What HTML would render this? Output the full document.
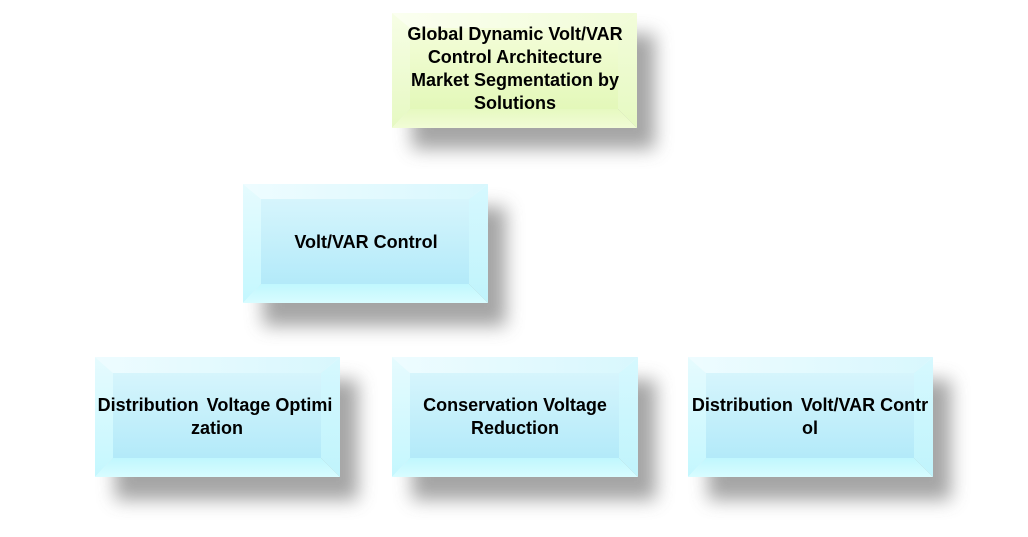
<!DOCTYPE html>
<html>
<head>
<meta charset="utf-8">
<style>
  html, body { margin: 0; padding: 0; background: #ffffff; }
  body { width: 1028px; height: 537px; overflow: hidden; }
  svg { display: block; }
  text { font-family: "Liberation Sans", "DejaVu Sans", sans-serif; font-weight: bold; font-size: 18px; fill: #000; }
</style>
</head>
<body>
<svg width="1028" height="537" viewBox="0 0 1028 537" xmlns="http://www.w3.org/2000/svg">
  <defs>
    <filter id="sh" x="-30%" y="-40%" width="160%" height="180%">
      <feGaussianBlur stdDeviation="9"/>
    </filter>
    <!-- blue -->
    <linearGradient id="bFace" x1="0" y1="0" x2="0" y2="1">
      <stop offset="0" stop-color="#d6f5fc"/>
      <stop offset="1" stop-color="#b3eaf9"/>
    </linearGradient>
    <linearGradient id="bTop" x1="0" y1="0" x2="1" y2="0">
      <stop offset="0" stop-color="#eefcff"/>
      <stop offset="1" stop-color="#d8f7fd"/>
    </linearGradient>
    <linearGradient id="bLeft" x1="0" y1="0" x2="0" y2="1">
      <stop offset="0" stop-color="#e6fbfe"/>
      <stop offset="1" stop-color="#c4f7fe"/>
    </linearGradient>
    <linearGradient id="bRight" x1="0" y1="0" x2="0" y2="1">
      <stop offset="0" stop-color="#d6f8fe"/>
      <stop offset="1" stop-color="#c0f4fc"/>
    </linearGradient>
    <linearGradient id="bBot" x1="0" y1="0" x2="0" y2="1">
      <stop offset="0" stop-color="#c0f7fe"/>
      <stop offset="1" stop-color="#d8fcff"/>
    </linearGradient>
    <!-- yellow-green -->
    <linearGradient id="yFace" x1="0" y1="0" x2="0" y2="1">
      <stop offset="0" stop-color="#f4fdd9"/>
      <stop offset="1" stop-color="#e3f8b9"/>
    </linearGradient>
    <linearGradient id="yTop" x1="0" y1="0" x2="1" y2="0">
      <stop offset="0" stop-color="#fbfff0"/>
      <stop offset="1" stop-color="#f1fcd8"/>
    </linearGradient>
    <linearGradient id="yLeft" x1="0" y1="0" x2="0" y2="1">
      <stop offset="0" stop-color="#f7fee6"/>
      <stop offset="1" stop-color="#e6f9c2"/>
    </linearGradient>
    <linearGradient id="yRight" x1="0" y1="0" x2="0" y2="1">
      <stop offset="0" stop-color="#f2fcda"/>
      <stop offset="1" stop-color="#e6f9c2"/>
    </linearGradient>
    <linearGradient id="yBot" x1="0" y1="0" x2="0" y2="1">
      <stop offset="0" stop-color="#e6f9c0"/>
      <stop offset="1" stop-color="#f1fcd6"/>
    </linearGradient>
  </defs>

  <!-- shadows -->
  <g filter="url(#sh)" fill="#959595" opacity="0.85">
    <rect x="412" y="34" width="243" height="115"/>
    <rect x="263" y="207" width="243" height="119"/>
    <rect x="115" y="380" width="243" height="120"/>
    <rect x="412" y="380" width="244" height="120"/>
    <rect x="708" y="380" width="243" height="120"/>
  </g>

  <!-- Top box (yellow) -->
  <g>
    <rect x="410" y="28" width="208" height="81" fill="url(#yFace)"/>
    <polygon points="392,13 637,13 618,28 410,28" fill="url(#yTop)"/>
    <polygon points="392,13 410,28 410,109 392,128" fill="url(#yLeft)"/>
    <polygon points="637,13 637,128 618,109 618,28" fill="url(#yRight)"/>
    <polygon points="392,128 410,109 618,109 637,128" fill="url(#yBot)"/>
    <text x="515" y="40" text-anchor="middle">Global Dynamic Volt/VAR</text>
    <text x="515" y="63" text-anchor="middle">Control Architecture</text>
    <text x="515" y="86" text-anchor="middle">Market Segmentation by</text>
    <text x="515" y="109" text-anchor="middle">Solutions</text>
  </g>

  <!-- Volt/VAR Control -->
  <g>
    <rect x="261" y="199" width="208" height="85" fill="url(#bFace)"/>
    <polygon points="243,184 488,184 469,199 261,199" fill="url(#bTop)"/>
    <polygon points="243,184 261,199 261,284 243,303" fill="url(#bLeft)"/>
    <polygon points="488,184 488,303 469,284 469,199" fill="url(#bRight)"/>
    <polygon points="243,303 261,284 469,284 488,303" fill="url(#bBot)"/>
    <text x="366" y="248" text-anchor="middle">Volt/VAR Control</text>
  </g>

  <!-- Distribution Voltage Optimization -->
  <g>
    <rect x="113" y="373" width="208" height="85" fill="url(#bFace)"/>
    <polygon points="95,357 340,357 321,373 113,373" fill="url(#bTop)"/>
    <polygon points="95,357 113,373 113,458 95,477" fill="url(#bLeft)"/>
    <polygon points="340,357 340,477 321,458 321,373" fill="url(#bRight)"/>
    <polygon points="95,477 113,458 321,458 340,477" fill="url(#bBot)"/>
    <text x="215" y="411" text-anchor="middle">Distribution<tspan dx="3"> Voltage Optimi</tspan></text>
    <text x="217" y="434" text-anchor="middle">zation</text>
  </g>

  <!-- Conservation Voltage Reduction -->
  <g>
    <rect x="410" y="373" width="209" height="85" fill="url(#bFace)"/>
    <polygon points="392,357 638,357 619,373 410,373" fill="url(#bTop)"/>
    <polygon points="392,357 410,373 410,458 392,477" fill="url(#bLeft)"/>
    <polygon points="638,357 638,477 619,458 619,373" fill="url(#bRight)"/>
    <polygon points="392,477 410,458 619,458 638,477" fill="url(#bBot)"/>
    <text x="515" y="411" text-anchor="middle">Conservation Voltage</text>
    <text x="515" y="434" text-anchor="middle">Reduction</text>
  </g>

  <!-- Distribution Volt/VAR Control -->
  <g>
    <rect x="706" y="373" width="208" height="85" fill="url(#bFace)"/>
    <polygon points="688,357 933,357 914,373 706,373" fill="url(#bTop)"/>
    <polygon points="688,357 706,373 706,458 688,477" fill="url(#bLeft)"/>
    <polygon points="933,357 933,477 914,458 914,373" fill="url(#bRight)"/>
    <polygon points="688,477 706,458 914,458 933,477" fill="url(#bBot)"/>
    <text x="810" y="411" text-anchor="middle">Distribution<tspan dx="3"> Volt/VAR Contr</tspan></text>
    <text x="810" y="434" text-anchor="middle">ol</text>
  </g>
</svg>
</body>
</html>
